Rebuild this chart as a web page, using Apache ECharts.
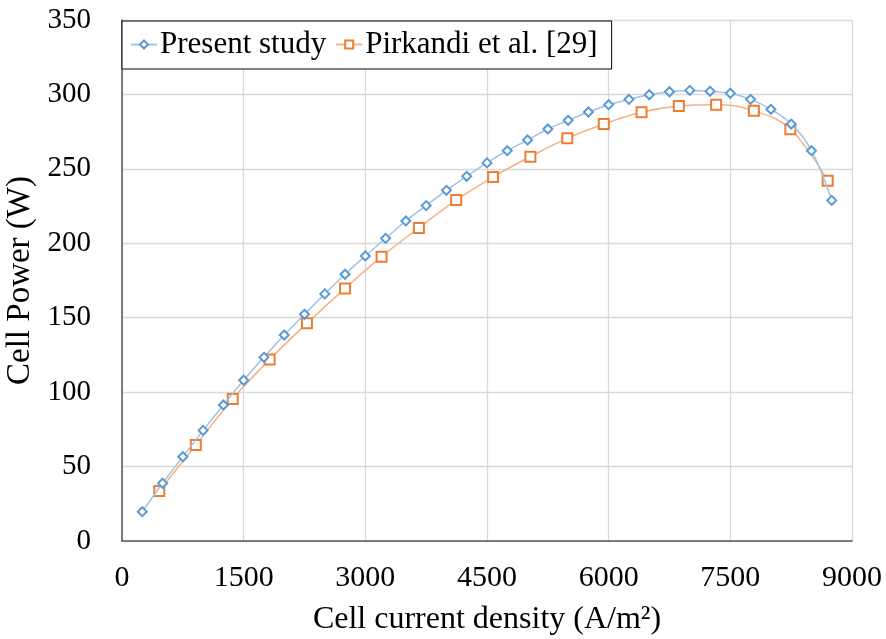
<!DOCTYPE html>
<html>
<head>
<meta charset="utf-8">
<script src="https://cdn.jsdelivr.net/npm/echarts@6/dist/echarts.min.js"></script>
<style>
  html, body {margin: 0; padding: 0; background: #fff;}
  #chart {width: 886px; height: 639px;}
</style>
</head>
<body>
<div id="chart"></div>
<script>
// Present study: current density (A/m2) and cell power (W)
const presentCurrent = [250, 500, 750, 1000, 1250, 1500, 1750, 2000, 2250, 2500, 2750, 3000, 3250, 3500, 3750, 4000, 4250, 4500, 4750, 5000, 5250, 5500, 5750, 6000, 6250, 6500, 6750, 7000, 7250, 7500, 7750, 8000, 8250, 8500, 8750];
const presentPower = [19.7, 38.8, 56.6, 74.3, 91.4, 108, 123.4, 138.4, 152.3, 166, 179.2, 191.5, 203.3, 215, 225.3, 235.6, 245, 254, 262.2, 269.4, 276.8, 282.6, 288.2, 293.1, 296.7, 299.8, 301.8, 302.7, 302.1, 300.8, 296.7, 290, 280.1, 262.2, 228.8];

// Pirkandi et al. [29]
const pirkandiCurrent = [460, 910, 1365, 1820, 2280, 2750, 3200, 3660, 4120, 4575, 5035, 5490, 5940, 6405, 6865, 7325, 7790, 8240, 8700];
const pirkandiPower = [33.6, 64.5, 95.4, 122, 146.2, 169.7, 191, 210.3, 229, 244.5, 258.2, 270.5, 280.1, 288, 292.2, 293.1, 289, 276.6, 242];

const seriesNames = ['Present study', 'Pirkandi et al. [29]'];

const font = 'Liberation Serif';
const chart = echarts.init(document.getElementById('chart'));

chart.setOption({
    animation: false,
    backgroundColor: '#fff',
    grid: {left: 122, right: 34, top: 20, bottom: 98, containLabel: false, outerBoundsMode: 'none'},
    legend: {
        data: seriesNames,
        left: 122,
        top: 21,
        padding: [8, 14, 9, 8],
        itemGap: 9,
        itemWidth: 26,
        itemHeight: 10,
        backgroundColor: '#fff',
        borderColor: '#000',
        borderWidth: 1,
        borderRadius: 0,
        textStyle: {fontFamily: font, fontSize: 31, color: '#000', padding: [0, 0, 0, -2]},
    },
    xAxis: {
        type: 'value',
        min: 0,
        max: 9000,
        interval: 1500,
        name: 'Cell current density (A/m²)',
        nameLocation: 'middle',
        nameGap: 63,
        nameTextStyle: {fontFamily: font, fontSize: 32, color: '#000'},
        axisLine: {lineStyle: {color: '#595959', width: 1.5}},
        axisTick: {show: false},
        axisLabel: {fontFamily: font, fontSize: 30, color: '#000', margin: 22, formatter: (v) => `${v}`},
        splitLine: {show: true, lineStyle: {color: '#d9d9d9', width: 1.3}},
    },
    yAxis: {
        type: 'value',
        min: 0,
        max: 350,
        interval: 50,
        name: 'Cell Power (W)',
        nameLocation: 'middle',
        nameGap: 78,
        nameTextStyle: {fontFamily: font, fontSize: 33, color: '#000'},
        axisLine: {show: true, lineStyle: {color: '#595959', width: 1.5}},
        axisTick: {show: false},
        axisLabel: {fontFamily: font, fontSize: 29, color: '#000', margin: 31, formatter: (v) => `${v}`},
        splitLine: {show: true, lineStyle: {color: '#d9d9d9', width: 1.3}},
    },
    series: [
        {
            name: seriesNames[0],
            type: 'line',
            smooth: 0.4,
            data: presentCurrent.map((c, i) => [c, presentPower[i]]),
            symbol: 'diamond',
            symbolSize: 9,
            lineStyle: {color: '#9dc3e6', width: 1.5},
            itemStyle: {color: '#fff', borderColor: '#5b9bd5', borderWidth: 2},
            z: 3,
        },
        {
            name: seriesNames[1],
            type: 'line',
            smooth: 0.4,
            data: pirkandiCurrent.map((c, i) => [c, pirkandiPower[i]]),
            symbol: 'rect',
            symbolSize: 10,
            lineStyle: {color: '#f4b183', width: 1.5},
            itemStyle: {color: '#fff', borderColor: '#ed7d31', borderWidth: 2},
            z: 2,
        },
    ],
});
</script>
</body>
</html>
